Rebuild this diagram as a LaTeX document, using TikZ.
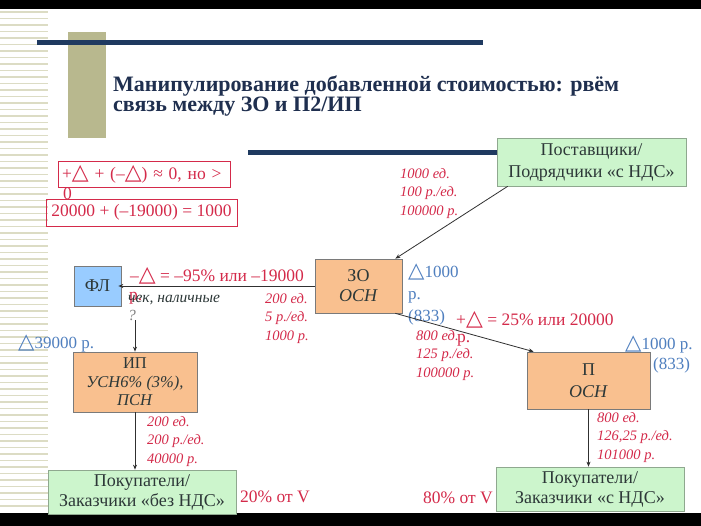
\documentclass[tikz,border=0pt]{standalone}
\usepackage{fontspec}
\usepackage{graphicx}
\setmainfont{Liberation Serif}
\newfontfamily\symfont{DejaVu Sans}
\newcommand{\tri}{\scalebox{1.25}{\symfont\char"25B3}}
\usetikzlibrary{arrows.meta}
\definecolor{navyline}{HTML}{1F3A60}
\definecolor{titletxt}{HTML}{1F2F4F}
\definecolor{olivebar}{HTML}{B8B88E}
\definecolor{stripe}{HTML}{DCDCC4}
\definecolor{boxgreen}{HTML}{CCF5CC}
\definecolor{greenframe}{HTML}{8FA88F}
\definecolor{boxorange}{HTML}{F9C08F}
\definecolor{boxblue}{HTML}{99CCFF}
\definecolor{framegray}{HTML}{7A7A7A}
\definecolor{boxtxt}{HTML}{2D3838}
\definecolor{redtxt}{HTML}{D42A4A}
\definecolor{bluetxt}{HTML}{4F7FBF}
\definecolor{arrowgray}{HTML}{303030}
\begin{document}
\begin{tikzpicture}[x=1pt,y=-1pt,
  >={Stealth[length=5pt,width=4pt]},
  box/.style={draw=framegray, line width=0.7pt, text=boxtxt, align=center, inner sep=0pt, font=\fontsize{18}{21}\selectfont},
  greenbox/.style={box, draw=greenframe, fill=boxgreen},
  orangebox/.style={box, fill=boxorange},
  redbox/.style={draw=redtxt, line width=0.6pt, text=redtxt, inner sep=0pt, font=\fontsize{17.5}{20}\selectfont},
  qty/.style={anchor=north west, align=left, text=redtxt, inner sep=0pt, font=\fontsize{14.5}{18.5}\selectfont\itshape},
  delta/.style={anchor=west, inner sep=0pt, text=redtxt, font=\fontsize{17.5}{20}\selectfont},
  gain/.style={anchor=west, inner sep=0pt, text=bluetxt, align=left, font=\fontsize{17}{22}\selectfont},
  flow/.style={->, draw=arrowgray, line width=0.8pt}]
\useasboundingbox (0,0) rectangle (701,526);
\fill[white] (0,0) rectangle (701,526);
\foreach \y in {12,18.5,...,508} \draw[stripe, line width=1.2pt] (0,\y) -- (48,\y);
\fill[olivebar] (68,32) rectangle (106,138);
\fill[navyline] (37,40.5) rectangle (483,45.5);
\fill[navyline] (248,150.5) rectangle (500,155.5);
\fill[black] (0,0) rectangle (701,9);
\fill[black] (0,513) rectangle (701,526);
\node [anchor=north west, align=left, inner sep=0pt, text=titletxt, font=\fontsize{22}{20}\selectfont\bfseries] (title) at (113,76) {Манипулирование добавленной стоимостью: рвём\\связь между ЗО и П2/ИП};
\node [greenbox, minimum width=189, minimum height=48, font=\fontsize{18}{22}\selectfont] (sup) at (591.5,162) {Поставщики/\\Подрядчики «с НДС»};
\node [orangebox, minimum width=87, minimum height=54, font=\fontsize{18}{20}\selectfont] (zo) at (358.5,286) {ЗО\\\textit{ОСН}};
\node [box, fill=boxblue, minimum width=47, minimum height=40] (fl) at (97.5,286) {ФЛ};
\node [orangebox, minimum width=124, minimum height=60, font=\fontsize{16.5}{18.5}\selectfont] (ip) at (135,382) {ИП\\\textit{УСН6\% (3\%),}\\\textit{ПСН}};
\node [orangebox, minimum width=123, minimum height=57, font=\fontsize{18}{22}\selectfont] (p) at (588.5,380.5) {П\\\textit{ОСН}};
\node [greenbox, minimum width=188, minimum height=44, font=\fontsize{18}{20}\selectfont] (buyfree) at (142,492) {Покупатели/\\Заказчики «без НДС»};
\node [greenbox, minimum width=188, minimum height=44, font=\fontsize{18}{20}\selectfont] (buyvat) at (590,489) {Покупатели/\\Заказчики «с НДС»};
\node [redbox, minimum width=172, minimum height=26, text width=164, align=left] (sumsign) at (144,174) {+\tri{} + (–\tri) ≈ 0, но >};
\node [delta] (zero) at (63,194) {0};
\node [redbox, minimum width=191, minimum height=27] (sumnum) at (141.5,212.5) {20000 + (–19000) = 1000};
\node [qty] (supqty) at (400,168) {1000 ед.\\100 р./ед.\\100000 р.};
\node [qty] (flqty) at (265,293) {200 ед.\\5 р./ед.\\1000 р.};
\node [qty] (pqty) at (416,330) {800 ед.\\125 р./ед.\\100000 р.};
\node [qty] (vatqty) at (597,412) {800 ед.\\126,25 р./ед.\\101000 р.};
\node [qty] (ipqty) at (147,416) {200 ед.\\200 р./ед.\\40000 р.};
\node [delta] (minus) at (130,276) {–\tri{} = –95\% или –19000};
\node [delta] (minusr) at (129,298) {р.};
\node [anchor=west, inner sep=0pt, text=boxtxt, font=\fontsize{15.5}{18}\selectfont\itshape] (cash) at (128,300) {чек, наличные};
\node [anchor=west, inner sep=0pt, text=gray, font=\fontsize{15.5}{18}\selectfont\itshape] (quest) at (128,315) {?};
\node [gain, anchor=north west] (zogain) at (408,264) {\tri1000\\р.\\(833)};
\node [delta] (plus) at (456,320) {+\tri{} = 25\% или 20000};
\node [delta] (plusr) at (457,340) {р.};
\node [gain] (pgain) at (625,344) {\tri1000 р.};
\node [gain] (pgainnet) at (653,365) {(833)};
\node [gain] (ipgain) at (18,343) {\tri39000 р.};
\node [delta] (share80) at (423,498) {80\% от V};
\node [delta] (share20) at (240,497) {20\% от V};
\draw [flow] ([xshift=11pt]sup.south west) -- ([xshift=-7pt]zo.north east);
\draw [flow, shorten >=-3pt] (zo.west) -- (fl.east);
\draw [flow] ([xshift=-7pt]zo.south east) -- ([xshift=7pt]p.north west);
\draw [flow] (ip.north |- quest.south) -- (ip.north);
\draw [flow] (ip.south) -- (ip.south |- buyfree.north);
\draw [flow] (p.south) -- (p.south |- buyvat.north);
\end{tikzpicture}
\end{document}
